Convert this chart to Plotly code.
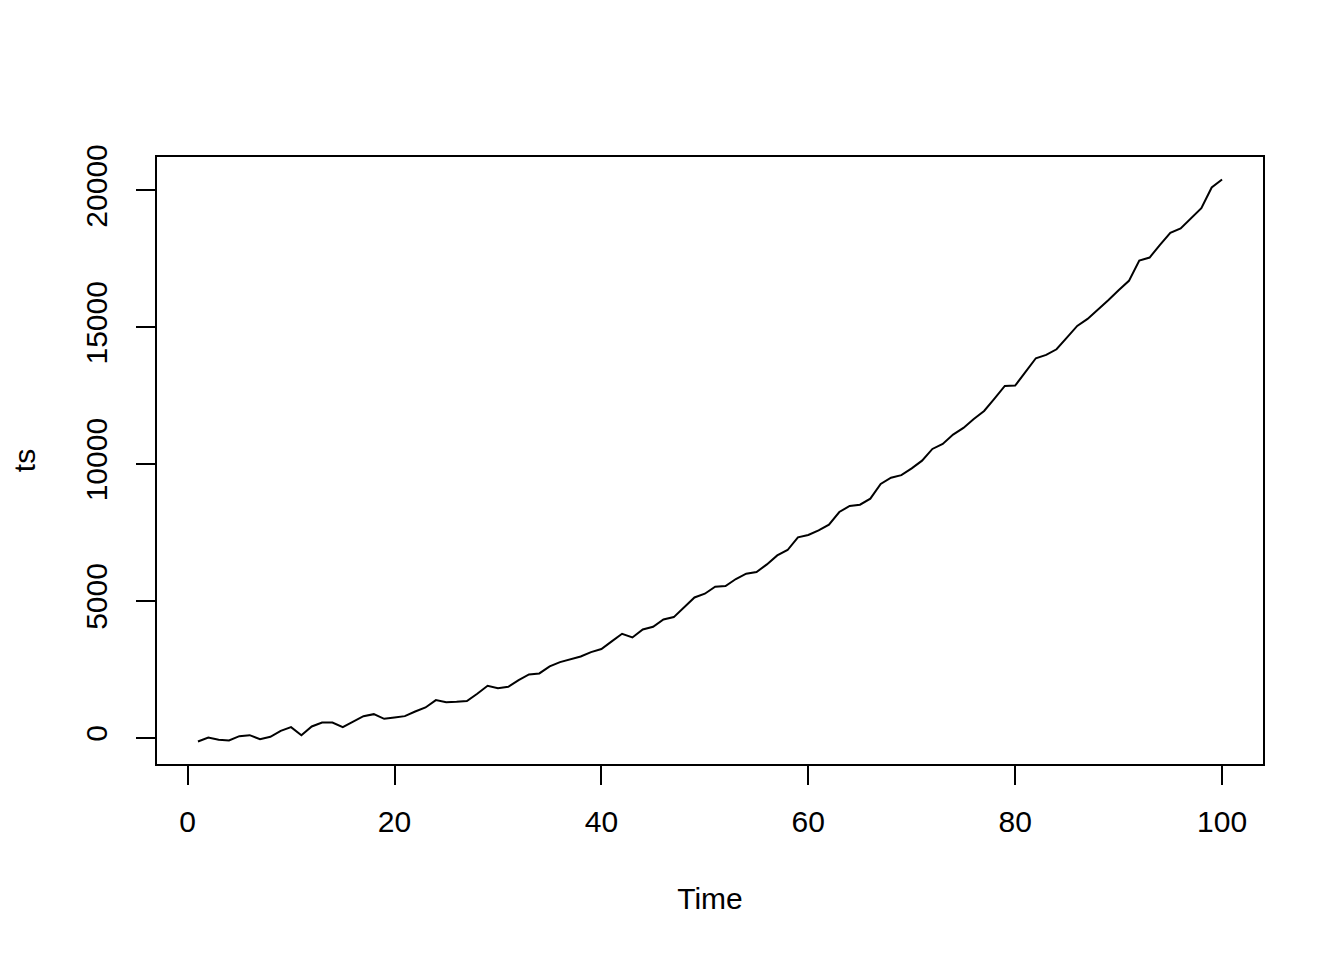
import plotly.graph_objects as go

time = list(range(1, 101))
ts = [
    -135, 10, -73, -97, 62, 97, -49, 36, 256, 390,
    97, 414, 560, 560, 390, 597, 792, 865, 694, 743,
    792, 963, 1109, 1377, 1304, 1316, 1341, 1609, 1901, 1816,
    1865, 2109, 2315, 2352, 2608, 2766, 2876, 2974, 3133, 3243,
    3523, 3802, 3668, 3960, 4058, 4325, 4411, 4764, 5129, 5265,
    5521, 5546, 5802, 5996, 6058, 6336, 6665, 6862, 7323, 7410,
    7579, 7787, 8251, 8470, 8519, 8738, 9275, 9505, 9597, 9846,
    10127, 10555, 10738, 11078, 11322, 11651, 11944, 12394, 12858, 12869,
    13392, 13868, 13990, 14197, 14624, 15050, 15307, 15636, 15990, 16354,
    16697, 17439, 17549, 18013, 18452, 18609, 18986, 19352, 20108, 20400,
]
x_ticks = [0, 20, 40, 60, 80, 100]
y_ticks = [0, 5000, 10000, 15000, 20000]

def ext(vals, f=0.04):
    lo, hi = min(vals), max(vals)
    d = (hi - lo) * f
    return [lo - d, hi + d]

fig = go.Figure()
fig.add_trace(go.Scatter(x=time, y=ts, mode="lines",
                         line=dict(color="black", width=2), showlegend=False))

font = dict(family="Liberation Sans, Arial, sans-serif", size=30, color="black")

fig.update_layout(
    width=1344, height=960,
    margin=dict(l=149, r=89, t=149, b=204),
    paper_bgcolor="white", plot_bgcolor="white",
    font=font,
    xaxis=dict(range=ext(time), tickvals=x_ticks, ticktext=[str(v) for v in x_ticks],
               ticks="outside", ticklen=19, tickwidth=2, tickcolor="black",
               showline=True, linecolor="black", linewidth=2, mirror=True,
               showgrid=False, zeroline=False, tickfont=font,
               ticklabelstandoff=11,
               title=dict(text="Time", font=font, standoff=51)),
    yaxis=dict(range=ext(ts), tickvals=y_ticks, ticktext=[str(v) for v in y_ticks],
               ticks="outside", ticklen=19, tickwidth=2, tickcolor="black",
               showline=True, linecolor="black", linewidth=2, mirror=True,
               showgrid=False, zeroline=False, tickfont=font, tickangle=-90,
               ticklabelstandoff=17,
               title=dict(text="ts", font=font, standoff=39)),
)

fig.write_html("out.html")
